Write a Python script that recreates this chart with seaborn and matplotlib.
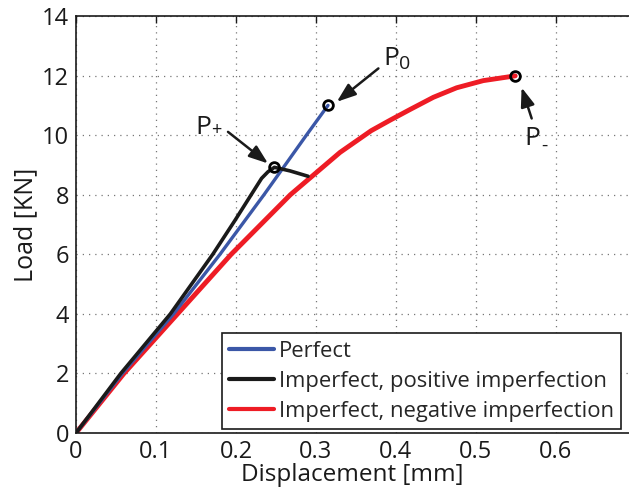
import matplotlib
matplotlib.use("Agg")
import matplotlib.pyplot as plt
import seaborn as sns
import pandas as pd

# ---- data ----
perfect_x = [0, 0.058, 0.122, 0.180, 0.235, 0.288, 0.315]
perfect_y = [0, 2, 4, 6, 8, 10, 11.0]

positive_x = [0, 0.056, 0.118, 0.171, 0.199, 0.219, 0.232, 0.240, 0.248, 0.2675, 0.290]
positive_y = [0, 2, 4, 6, 7.15, 8, 8.55, 8.77, 8.92, 8.80, 8.62]

negative_x = [0, 0.060, 0.127, 0.194, 0.268, 0.330, 0.369, 0.3925, 0.4175, 0.4467, 0.4758, 0.509, 0.549]
negative_y = [0, 2, 4, 6, 8, 9.42, 10.15, 10.50, 10.86, 11.27, 11.59, 11.83, 11.99]

series_names = ["Perfect", "Imperfect, positive imperfection", "Imperfect, negative imperfection"]
series_colors = ["#3b57a7", "#1a1a1a", "#ee1c25"]

x_ticks = [0, 0.1, 0.2, 0.3, 0.4, 0.5, 0.6]
x_tick_labels = ["0", "0.1", "0.2", "0.3", "0.4", "0.5", "0.6"]
y_ticks = [0, 2, 4, 6, 8, 10, 12, 14]

peak_main = ["P", "P", "P"]
peak_subs = ["0", "+", "-"]

# ---- style ----
sns.set_style("white")
plt.rcParams["font.family"] = ["Open Sans", "DejaVu Sans"]

fig = plt.figure(figsize=(6.29, 4.93), dpi=100)
ax = fig.add_axes([76 / 629, 60 / 493, 553 / 629, 417 / 493])

frames = []
for name, xs, ys in zip(series_names,
                        [perfect_x, positive_x, negative_x],
                        [perfect_y, positive_y, negative_y]):
    frames.append(pd.DataFrame({"x": xs, "y": ys, "series": name}))
df = pd.concat(frames, ignore_index=True)

widths = {series_names[0]: 2.4, series_names[1]: 2.6, series_names[2]: 3.5}
# draw red first so black/blue sit on top like the reference
for name in [series_names[2], series_names[0], series_names[1]]:
    sub = df[df["series"] == name]
    sns.lineplot(data=sub, x="x", y="y", ax=ax, color=series_colors[series_names.index(name)],
                 lw=widths[name], sort=False, estimator=None, label=name)

# peak markers
peaks = [(perfect_x[-1], perfect_y[-1]), (positive_x[8], positive_y[8]), (negative_x[-1], negative_y[-1])]
for px, py in peaks:
    ax.plot(px, py, "o", ms=7, mfc="none", mec="black", mew=2, zorder=5)

# annotations: label text, arrow (tail -> head), subscript
arrow_style = "-|>,head_length=1.15,head_width=0.42"
label_pos = [(0.384, 12.35), (0.149, 10.05), (0.561, 9.66)]
arrow_tail = [(0.378, 12.24), (0.190, 10.11), (0.5696, 10.56)]
arrow_head = [(0.326, 11.12), (0.240, 9.05), (0.557, 11.60)]
sub_offsets = [(0.3, -1.0), (0.3, 0.5), (0.3, -2.5)]
sub_sizes = [14, 13, 14]
for pos, tail, head, main, subtxt, off, ssz in zip(label_pos, arrow_tail, arrow_head, peak_main,
                                                    peak_subs, sub_offsets, sub_sizes):
    t = ax.text(pos[0], pos[1], main, fontsize=19, ha="left", va="baseline", color="#1a1a1a")
    ax.annotate("", xy=head, xytext=tail,
                arrowprops=dict(arrowstyle=arrow_style, color="#1a1a1a", lw=1.8,
                                shrinkA=0, shrinkB=0))
    ax.annotate(subtxt, xy=(1, 0), xycoords=t, xytext=off, textcoords="offset points",
                fontsize=ssz, ha="left", va="bottom", color="#1a1a1a")

ax.set_xlim(0, 553 / 800)
ax.set_ylim(0, 14)
ax.set_xticks(x_ticks)
ax.set_xticklabels(x_tick_labels)
ax.set_yticks(y_ticks)
ax.tick_params(direction="in", length=5, width=1, labelsize=17, colors="#1a1a1a",
               top=True, right=False, pad=5)
ax.grid(True, linestyle=(0, (1, 4)), color="#777777", lw=0.9)
ax.set_axisbelow(True)

for side in ["left", "bottom", "top"]:
    ax.spines[side].set_color("#1a1a1a")
    ax.spines[side].set_linewidth(1.2)
ax.spines["right"].set_visible(False)

ax.set_xlabel("Displacement [mm]", fontsize=17.5, color="#1a1a1a", labelpad=-1)
ax.set_ylabel("Load [KN]", fontsize=18, color="#1a1a1a", labelpad=3)

handles, labels = ax.get_legend_handles_labels()
order = [labels.index(n) for n in series_names]
leg = ax.legend([handles[i] for i in order], [labels[i] for i in order],
                loc="upper left", bbox_to_anchor=((221.7 - 76) / 553, (433 - 333.3) / 417),
                fontsize=15.8, frameon=True, fancybox=False, framealpha=1,
                edgecolor="#1a1a1a", handlelength=2.05, handletextpad=0.2,
                borderpad=0.35, labelspacing=0.4, borderaxespad=0)
leg.get_frame().set_linewidth(1.2)
for line in leg.get_lines():
    line.set_linewidth(3)

fig.savefig("out.png", dpi=100)
